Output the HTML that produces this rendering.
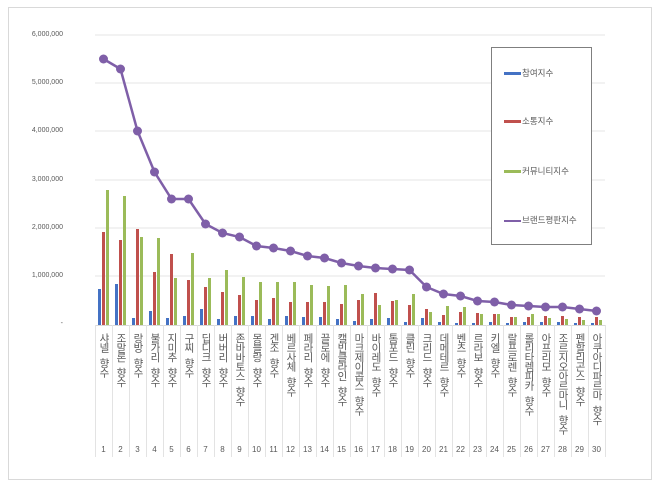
<!DOCTYPE html>
<html><head><meta charset="utf-8"><style>
body{margin:0;background:#fff;width:660px;height:489px;overflow:hidden;font-family:"Liberation Sans","Noto Sans CJK KR",sans-serif;}
#wrap{position:relative;width:660px;height:489px;}
.frame{position:absolute;left:8px;top:7px;width:644px;height:473px;border:1px solid #d9d9d9;box-sizing:border-box;}
.yl{position:absolute;right:597px;font-size:7px;color:#595959;text-align:right;}
.xl{position:absolute;top:333px;width:17px;font-size:10.5px;color:#595959;writing-mode:vertical-rl;text-orientation:upright;line-height:17px;letter-spacing:-1px;word-spacing:-5px;}
.xn{position:absolute;top:445px;width:17px;text-align:center;font-size:8px;color:#595959;}
.leg{position:absolute;left:491px;top:47px;width:101px;height:198px;border:1px solid #7f7f7f;background:#fff;box-sizing:border-box;}
.li{position:absolute;left:12px;font-size:8.5px;color:#595959;}
.sw{display:inline-block;width:17px;height:3px;vertical-align:middle;margin-right:1px;}
</style></head><body><div id="wrap">
<div class="frame"></div>
<svg id="s" width="660" height="489" style="position:absolute;left:0;top:0"></svg>
<div class="yl" style="top:31px">6,000,000</div>
<div class="yl" style="top:79px">5,000,000</div>
<div class="yl" style="top:127px">4,000,000</div>
<div class="yl" style="top:176px">3,000,000</div>
<div class="yl" style="top:224px">2,000,000</div>
<div class="yl" style="top:272px">1,000,000</div>
<div class="yl" style="top:320px">-</div>
<div class="xl" style="left:95px">샤넬 향수</div>
<div class="xl" style="left:112px">조말론 향수</div>
<div class="xl" style="left:129px">랑방 향수</div>
<div class="xl" style="left:146px">불가리 향수</div>
<div class="xl" style="left:163px">지미추 향수</div>
<div class="xl" style="left:180px">구찌 향수</div>
<div class="xl" style="left:197px">딥디크 향수</div>
<div class="xl" style="left:214px">버버리 향수</div>
<div class="xl" style="left:231px">존바바토스 향수</div>
<div class="xl" style="left:248px">몽블랑 향수</div>
<div class="xl" style="left:265px">겐조 향수</div>
<div class="xl" style="left:282px">베르사체 향수</div>
<div class="xl" style="left:299px">페라리 향수</div>
<div class="xl" style="left:316px">끌로에 향수</div>
<div class="xl" style="left:333px">캘빈클라인 향수</div>
<div class="xl" style="left:350px">마크제이콥스 향수</div>
<div class="xl" style="left:367px">바이레도 향수</div>
<div class="xl" style="left:384px">톰포드 향수</div>
<div class="xl" style="left:401px">클린 향수</div>
<div class="xl" style="left:418px">크리드 향수</div>
<div class="xl" style="left:435px">데메테르 향수</div>
<div class="xl" style="left:452px">벤츠 향수</div>
<div class="xl" style="left:469px">르라보 향수</div>
<div class="xl" style="left:486px">키엘 향수</div>
<div class="xl" style="left:503px">랄프로렌 향수</div>
<div class="xl" style="left:520px">롤리타렘피카 향수</div>
<div class="xl" style="left:537px">아프리모 향수</div>
<div class="xl" style="left:554px">조르지오아르마니 향수</div>
<div class="xl" style="left:571px">펜할리곤스 향수</div>
<div class="xl" style="left:588px">아쿠아디파르마 향수</div>
<div class="xn" style="left:95px">1</div><div class="xn" style="left:112px">2</div><div class="xn" style="left:129px">3</div><div class="xn" style="left:146px">4</div><div class="xn" style="left:163px">5</div><div class="xn" style="left:180px">6</div><div class="xn" style="left:197px">7</div><div class="xn" style="left:214px">8</div><div class="xn" style="left:231px">9</div><div class="xn" style="left:248px">10</div><div class="xn" style="left:265px">11</div><div class="xn" style="left:282px">12</div><div class="xn" style="left:299px">13</div><div class="xn" style="left:316px">14</div><div class="xn" style="left:333px">15</div><div class="xn" style="left:350px">16</div><div class="xn" style="left:367px">17</div><div class="xn" style="left:384px">18</div><div class="xn" style="left:401px">19</div><div class="xn" style="left:418px">20</div><div class="xn" style="left:435px">21</div><div class="xn" style="left:452px">22</div><div class="xn" style="left:469px">23</div><div class="xn" style="left:486px">24</div><div class="xn" style="left:503px">25</div><div class="xn" style="left:520px">26</div><div class="xn" style="left:537px">27</div><div class="xn" style="left:554px">28</div><div class="xn" style="left:571px">29</div><div class="xn" style="left:588px">30</div>
<div class="leg">
<div class="li" style="top:19px"><span class="sw" style="background:#4472c4"></span>참여지수</div>
<div class="li" style="top:67px"><span class="sw" style="background:#c0504d"></span>소통지수</div>
<div class="li" style="top:117px"><span class="sw" style="background:#9bbb59"></span>커뮤니티지수</div>
<div class="li" style="top:166px"><span class="sw" style="background:#7f5fa8;height:2px"></span>브랜드평판지수</div>
</div>
</div>
<script>
var s=document.getElementById('s'),h='';
[35,83,131,180,228,276].forEach(function(y){h+='<line x1="95" x2="605" y1="'+y+'" y2="'+y+'" stroke="#e6e6e6" stroke-width="1"/>';});
h+='<line x1="95" x2="605" y1="325.5" y2="325.5" stroke="#d9d9d9"/>';
for(var k=0;k<=30;k++){var x=95.5+17*k;h+='<line x1="'+x+'" x2="'+x+'" y1="325" y2="457" stroke="#e3e3e3"/>';}
var B=[[289,232,190],[284,240,196],[318,229,237],[311,272,238],[318,254,278],[316,280,253],[309,287,278],[319,292,270],[316,295,277],[316,300,282],[319,298,282],[316,302,282],[317,302,285],[317,302,286],[319,304,285],[321,300,294],[319,293,305],[318,301,300],[322,305,294],[318,309,312],[322,315,306],[323,312,307],[323,313,314],[322,314,314],[323,317,317],[322,317,314],[322,316,318],[322,316,319],[323,317,320],[323,317,320]];
var L=[59,69,131,172,199,199,224,233,237,246,248,251,256,258,263,266,268,269,270,287,294,296,301,302,305,306,307,307,309,311];
var C=['#4472c4','#c0504d','#9bbb59'];
B.forEach(function(b,i){var c=95+17*i+8.5;for(var j=0;j<3;j++){var x=c-5.5+j*4;h+='<rect x="'+x+'" y="'+b[j]+'" width="3" height="'+(325-b[j])+'" fill="'+C[j]+'"/>';}});
var p=L.map(function(y,i){return (103.5+17*i)+','+y;}).join(' ');
h+='<polyline points="'+p+'" fill="none" stroke="#7f5fa8" stroke-width="2.5"/>';
L.forEach(function(y,i){h+='<circle cx="'+(103.5+17*i)+'" cy="'+y+'" r="4.5" fill="#7f5fa8"/>';});
s.innerHTML=h;
</script>
</body></html>
